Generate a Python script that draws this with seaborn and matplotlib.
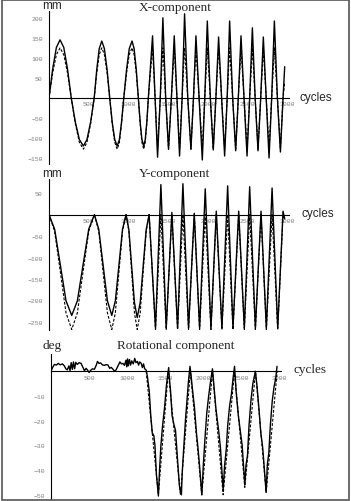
import matplotlib
matplotlib.use("Agg")
import matplotlib.pyplot as plt
from matplotlib.patches import Rectangle
from matplotlib.ticker import MultipleLocator, FixedLocator
import seaborn as sns

# ---- X-component (mm) : measured (solid) and model (dashed)
t_x = [0, 46, 93, 139, 186, 233, 280, 331, 382, 433, 478, 524, 569,
       601, 632, 664, 697, 731, 764, 795, 827, 858, 886, 913, 941,
       976, 1010, 1045, 1071, 1098, 1124, 1147, 1169, 1192, 1211, 1231, 1250,
       1303, 1335, 1366, 1400, 1433, 1468, 1504, 1540, 1576, 1610, 1643, 1675,
       1706, 1746, 1786, 1818, 1849, 1889, 1929, 1960, 1992, 2030, 2067, 2100,
       2134, 2172, 2210, 2242, 2273, 2311, 2349, 2382, 2416, 2454, 2492, 2525,
       2559, 2594, 2630, 2664, 2697, 2733, 2769, 2802, 2836, 2874, 2912, 2945, 2966]
x_meas = [0, 72, 126, 145, 126, 72, 0, -60, -104, -120, -104, -60, 0,
          71, 123, 142, 123, 71, 0, -60, -104, -120, -104, -60, 0,
          71, 123, 142, 123, 71, 0, -60, -104, -120, -104, -60, 0,
          155, 0, -148, 0, 200, 0, -128, 0, 155, 0, -145, 0,
          210, 0, -128, 0, 155, 0, -155, 0, 192, 0, -130, 0,
          152, 0, -145, 0, 192, 0, -132, 0, 155, 0, -145, 0,
          175, 0, -132, 0, 152, 0, -150, 0, 192, 0, -135, 0, 78]
x_model = [0, 62, 108, 125, 108, 62, 0, -64, -111, -128, -111, -64, 0,
           62, 108, 125, 108, 62, 0, -64, -111, -128, -111, -64, 0,
           62, 108, 125, 108, 62, 0, -64, -111, -128, -111, -64, 0,
           125, 0, -128, 0, 125, 0, -128, 0, 125, 0, -128, 0,
           125, 0, -128, 0, 125, 0, -128, 0, 125, 0, -128, 0,
           125, 0, -128, 0, 125, 0, -128, 0, 125, 0, -128, 0,
           125, 0, -128, 0, 125, 0, -128, 0, 125, 0, -128, 0, 40]

# ---- Y-component (mm)
t_y = [0, 71, 143, 214, 286, 357, 428, 500, 571,
       626, 681, 735, 790, 835, 880, 925, 970,
       1005, 1040, 1075, 1110, 1148, 1185, 1223, 1260,
       1340, 1408, 1475, 1546, 1618, 1685, 1756, 1828, 1895, 1966, 2038, 2105,
       2176, 2248, 2315, 2387, 2458, 2525, 2597, 2668, 2735, 2807, 2878, 2945, 2966]
y_meas = [0, -34, -118, -201, -235, -201, -118, -34, 0,
          -34, -118, -201, -235, -201, -118, -34, 0,
          -35, -120, -205, -240, -205, -120, -35, 0,
          -265, 70, -265, 5, -265, 72, -265, 3, -265, 60, -265, 8,
          -265, 67, -265, 8, -265, 65, -265, 8, -265, 62, -265, 8, -10]
y_model = [0, -39, -134, -229, -268, -229, -134, -39, 0,
           -39, -134, -229, -268, -229, -134, -39, 0,
           -39, -134, -229, -268, -229, -134, -39, 0,
           -268, 0, -268, 0, -268, 0, -268, 0, -268, 0, -268, 0,
           -268, 0, -268, 0, -268, 0, -268, 0, -268, 0, -268, 0, -10]

# ---- Rotational component (deg)
t_r = [0, 20, 45, 70, 95, 120, 150, 175, 195, 215, 235, 250, 265, 280, 295, 310,
       325, 345, 370, 395, 420, 440, 460, 480, 500, 520, 545, 570, 595, 610, 630,
       650, 675, 700, 725, 750, 770, 790, 815, 835, 855, 880, 905, 925, 945, 965,
       985, 995, 1005, 1015, 1030, 1045, 1060, 1080, 1100, 1115, 1135, 1150, 1165,
       1185, 1200, 1215, 1230, 1250, 1265, 1290, 1310, 1330, 1350, 1365, 1385,
       1410, 1425, 1443, 1465, 1490, 1515, 1530, 1545, 1555, 1570, 1590, 1610,
       1635, 1660, 1685, 1700, 1712, 1725, 1745, 1765, 1790, 1805, 1825, 1840,
       1860, 1885, 1910, 1930, 1950, 1980, 2000, 2020, 2045, 2070, 2095, 2120,
       2140, 2165, 2185, 2205, 2225, 2260, 2280, 2300, 2320, 2345, 2370, 2390,
       2410, 2430, 2460, 2485, 2510, 2545, 2560, 2580, 2600, 2625, 2650, 2684,
       2705, 2730, 2755, 2780, 2825, 2840, 2860, 2880, 2905, 2930, 2950, 2968]
r_meas = [0, 1.5, 2.8, 2.5, 3.2, 2.6, 3.0, 2.2, 1.0, 0.6, 2.2, 0.3, 3.5, 0.8, 3.8, 1.0,
          3.6, 2.8, 3.5, 3.2, 1.5, 0.2, 1.2, 0.5, -0.5, 0.4, 1.0, 0.8, 2.5, 4.0, 3.2,
          3.4, 2.6, 2.4, 2.7, 2.5, 1.2, 1.6, 0.8, 0.0, 0.6, 2.2, 3.8, 3.0, 3.2, 2.4,
          4.5, 1.8, 5.0, 2.2, 4.8, 2.5, 4.2, 3.0, 5.2, 3.5, 4.0, 2.5, 3.8,
          3.2, 1.5, 3.0, 1.0, 0.5, -2.0, -8, -18, -25, -26, -30, -42,
          -50.5, -40, -30, -22, -15, -6, -2, 1.5, -3, -8, -18, -21,
          -24, -35, -46, -49, -50, -40, -30, -20, -10, -4, 2, -2,
          -8, -15, -25, -31, -38, -50, -38, -28, -17, -10, -4, 1,
          -6, -15, -20, -25, -31, -48, -38, -32, -22, -14, -9, -3,
          2, -8, -18, -24, -30, -46, -38, -34, -22, -12, -5, 0,
          -6, -15, -25, -31, -49, -38, -33, -22, -12, -6, -3, 2]
t_r_model = [1250, 1410, 1540, 1700, 1830, 1980, 2120, 2260, 2410, 2545, 2685, 2825, 2970]
r_model = [0, -50, 0, -50, 0, -50, 0, -50, 0, -47, 0, -49, 0]

W, H = 351, 502
sns.set_style("white")
fig = plt.figure(figsize=(W / 100, H / 100), dpi=100)

tick_font = {"family": "Liberation Mono", "size": 4.6}
sans = "Liberation Sans"
serif = "Liberation Serif"


def px_axes(left, top, right, bottom):
    return fig.add_axes([left / W, 1 - bottom / H, (right - left) / W, (bottom - top) / H])


def style_axes(ax, ylim, ymajor, yminor):
    ax.set_xlim(0, 3020)
    ax.set_ylim(*ylim)
    for s in ["top", "right"]:
        ax.spines[s].set_visible(False)
    ax.spines["bottom"].set_position(("data", 0))
    for s in ["left", "bottom"]:
        ax.spines[s].set_linewidth(0.8)
        ax.spines[s].set_color("black")
    ax.xaxis.set_major_locator(FixedLocator([500, 1000, 1500, 2000, 2500, 3000]))
    ax.xaxis.set_minor_locator(MultipleLocator(100))
    ax.yaxis.set_major_locator(FixedLocator(ymajor))
    ax.yaxis.set_minor_locator(MultipleLocator(yminor))
    ax.tick_params(which="major", direction="inout", length=3, width=0.6,
                   color="black", labelcolor="#808080", pad=1)
    ax.tick_params(which="minor", direction="inout", length=1.6, width=0.5, color="black")
    ax.tick_params(axis="y", pad=3)
    for lab in ax.get_xticklabels() + ax.get_yticklabels():
        lab.set_fontfamily(tick_font["family"])
        lab.set_fontsize(tick_font["size"])
    ax.set_xlabel("")
    ax.set_ylabel("")
    ax.patch.set_alpha(0)


def draw(ax, t, meas, t_mod, model):
    sns.lineplot(x=t_mod, y=model, ax=ax, color="black", linewidth=0.8,
                 estimator=None, sort=False)
    ax.lines[-1].set_dashes([2.5, 1.5])
    sns.lineplot(x=t, y=meas, ax=ax, color="black", linewidth=1.0,
                 estimator=None, sort=False)


# panel 1
ax1 = px_axes(49, 12, 289, 165)
draw(ax1, t_x, x_meas, t_x, x_model)
style_axes(ax1, (-165, 217), [-150, -100, -50, 50, 100, 150, 200], 10)

# panel 2
ax2 = px_axes(49, 180, 289, 331)
draw(ax2, t_y, y_meas, t_y, y_model)
style_axes(ax2, (-269, 83), [-250, -200, -150, -100, -50, 50], 10)

# panel 3
ax3 = px_axes(51, 355, 281, 500)
draw(ax3, t_r, r_meas, t_r_model, r_model)
style_axes(ax3, (-51.7, 7), [-50, -40, -30, -20, -10], 2)


def ftext(x, y, s, **kw):
    fig.text(x / W, 1 - y / H, s, va="baseline", **kw)


ftext(52, 9, "mm", ha="center", family=sans, size=8.5)
ftext(175, 11, "X-component", ha="center", family=serif, size=9.5)
ftext(300, 101, "cycles", ha="left", family=sans, size=8.5)

ftext(52, 177, "mm", ha="center", family=sans, size=8.5)
ftext(175, 177, "Y-component", ha="center", family=serif, size=9.5)
ftext(301, 217, "cycles", ha="left", family=sans, size=8.5)

ftext(52.5, 349, "deg", ha="center", family=serif, size=9.5)
ftext(175.5, 348.5, "Rotational component", ha="center", family=serif, size=9.5)
ftext(293, 373.5, "cycles", ha="left", family=serif, size=9.5)

fig.add_artist(Rectangle((2 / W, 1 / H), (W - 4) / W, (H - 2) / H,
                         transform=fig.transFigure, fill=False,
                         edgecolor="#555555", linewidth=1.2))

fig.savefig("out.png", dpi=100)
